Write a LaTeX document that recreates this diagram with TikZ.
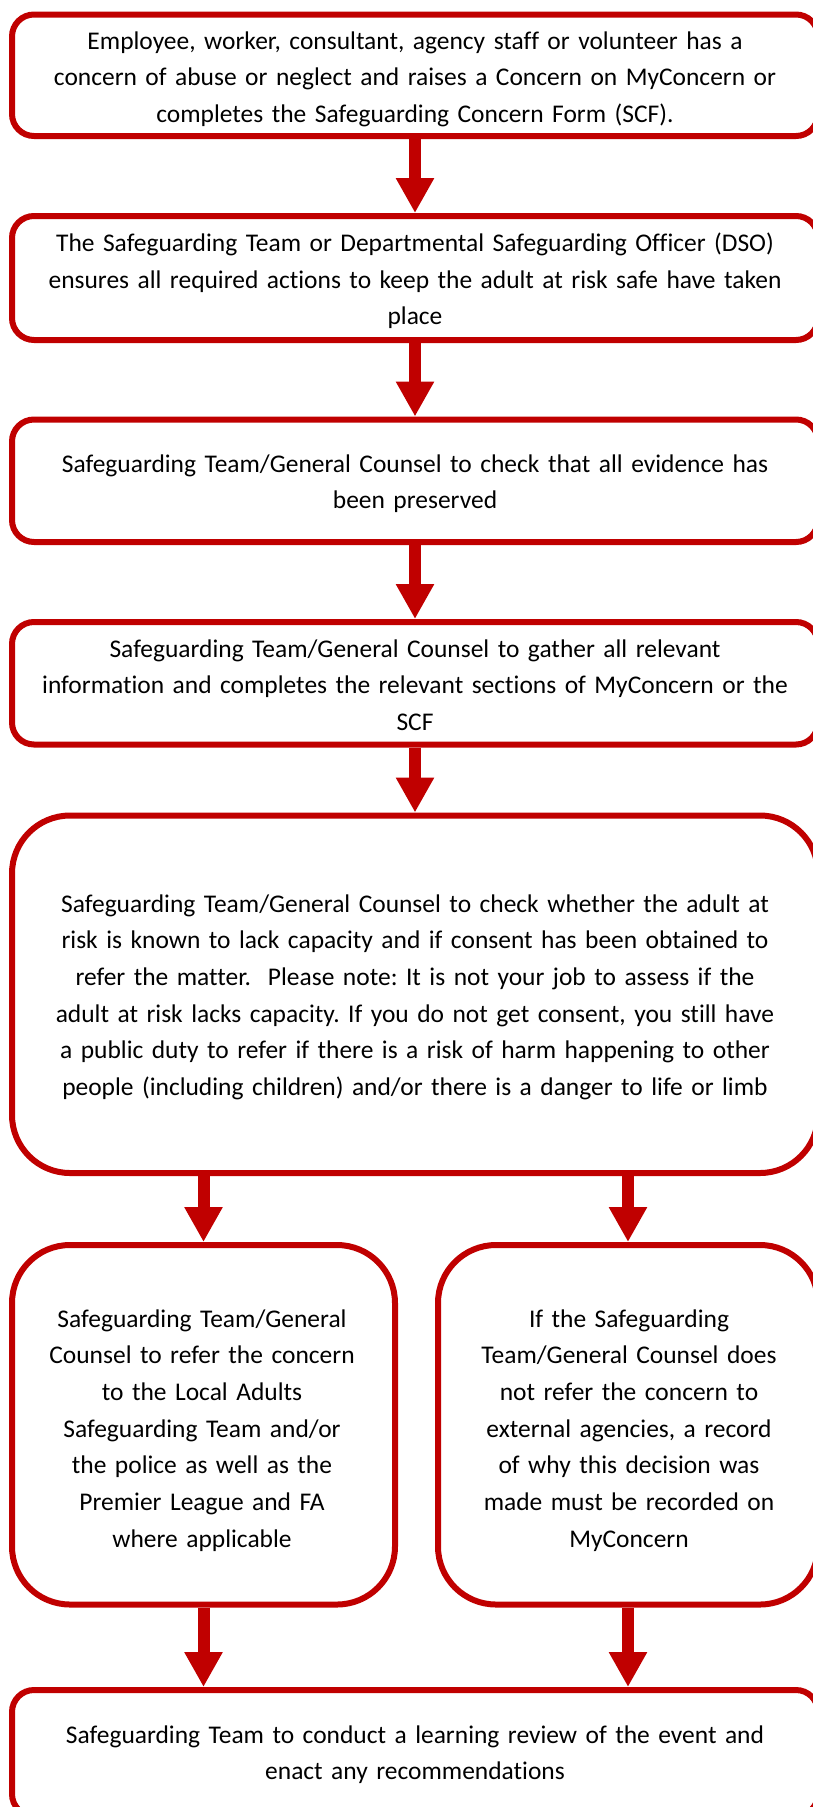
\documentclass[tikz,border=0pt]{standalone}
\usepackage{fontspec}
\setmainfont{Carlito}[Ligatures=NoCommon]
\frenchspacing
\usetikzlibrary{arrows.meta}
\definecolor{sgred}{HTML}{C00000}
\begin{document}
\begin{tikzpicture}[x=0.75pt,y=-0.75pt,
  box/.style={draw=sgred, line width=4.5pt, rounded corners=16.5pt, fill=white, inner sep=0pt},
  bigbox/.style={box, rounded corners=43.5pt},
  txt/.style={anchor=base, align=center, inner sep=0pt, text width=#1, font=\fontsize{19.1pt}{27.5pt}\selectfont\frenchspacing, text=black},
  txt/.default=600pt,
  arr/.style={draw=sgred, line width=9pt, -{Triangle[width=27pt,length=26.25pt]}}
]
\useasboundingbox (0,0) rectangle (813,1807);
\clip (0,0) rectangle (813,1807);

% boxes
\node[box, minimum width=604.5pt, minimum height=91.125pt] (b1) at (415,75.25) {};
\node[box, minimum width=604.5pt, minimum height=93pt] (b2) at (415,278) {};
\node[box, minimum width=604.5pt, minimum height=91.875pt] (b3) at (415,480.75) {};
\node[box, minimum width=604.5pt, minimum height=91.875pt] (b4) at (415,683.25) {};
\node[bigbox, minimum width=604.5pt, minimum height=268.125pt] (b5) at (415,994.25) {};
\node[bigbox, minimum width=287.25pt, minimum height=269.625pt] (b6a) at (203.5,1424.75) {};
\node[bigbox, minimum width=285pt, minimum height=269.625pt] (b6b) at (628,1424.75) {};
\node[box, minimum width=604.5pt, minimum height=94.5pt] (b7) at (415,1753) {};

% texts
\node[txt] (t1) at (415,49) {Employee, worker, consultant, agency staff or volunteer has a\\
concern of abuse or neglect and raises a Concern on MyConcern or\\
completes the Safeguarding Concern Form (SCF).};
\node[txt] (t2) at (415,251.5) {The Safeguarding Team or Departmental Safeguarding Officer (DSO)\\
ensures all required actions to keep the adult at risk safe have taken\\
place};
\node[txt] (t3) at (415,472) {Safeguarding Team/General Counsel to check that all evidence has\\
been preserved};
\node[txt] (t4) at (415,657) {Safeguarding Team/General Counsel to gather all relevant\\
information and completes the relevant sections of MyConcern or the\\
SCF};
\node[txt] (t5) at (415,912) {Safeguarding Team/General Counsel to check whether the adult at\\
risk is known to lack capacity and if consent has been obtained to\\
refer the matter.\ \ Please note: It is not your job to assess if the\\
adult at risk lacks capacity. If you do not get consent, you still have\\
a public duty to refer if there is a risk of harm happening to other\\
people (including children) and/or there is a danger to life or limb};
\node[txt=280pt] (t6a) at (202,1327) {Safeguarding Team/General\\
Counsel to refer the concern\\
to the Local Adults\\
Safeguarding Team and/or\\
the police as well as the\\
Premier League and FA\\
where applicable};
\node[txt=280pt] (t6b) at (629,1327) {If the Safeguarding\\
Team/General Counsel does\\
not refer the concern to\\
external agencies, a record\\
of why this decision was\\
made must be recorded on\\
MyConcern};
\node[txt] (t7) at (415,1743) {Safeguarding Team to conduct a learning review of the event and\\
enact any recommendations};

% connectors
\draw[arr] (b1.south) -- (b2.north);
\draw[arr] (b2.south) -- (b3.north);
\draw[arr] (b3.south) -- (b4.north);
\draw[arr] (b4.south) -- (b5.north);
\draw[arr] (b5.south -| b6a.north) -- (b6a.north);
\draw[arr] (b5.south -| b6b.north) -- (b6b.north);
\draw[arr] (b6a.south) -- (b6a.south |- b7.north);
\draw[arr] (b6b.south) -- (b6b.south |- b7.north);
\end{tikzpicture}
\end{document}
